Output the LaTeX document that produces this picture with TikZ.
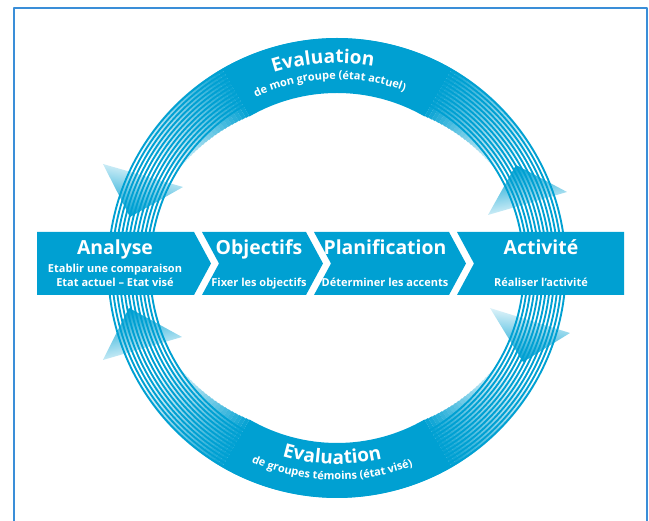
\documentclass[tikz,border=0pt]{standalone}
\usepackage{fontspec}
\setmainfont{Open Sans}
\usetikzlibrary{calc,fadings,decorations.text}
\definecolor{ringblue}{HTML}{00A0D2}
\definecolor{framebl}{HTML}{3A8ED8}
\tikzfading[name=tipfade,top color=transparent!0,bottom color=transparent!95]
\newcommand\evalbig{\bfseries\fontsize{19}{19}\selectfont}
\newcommand\evalsmall{\bfseries\fontsize{11}{11}\selectfont}
% one piece of the solid band: from, to, inner radius, opacity
\newcommand\bandpiece[4]{%
 \fill[ringblue,opacity=#4] ($(ctr)+(#1:230)$) arc[start angle=#1,end angle=#2,radius=230]
 -- ($(ctr)+(#2:#3)$) arc[start angle=#2,end angle=#1,radius=#3] -- cycle;}
\tikzset{
 title/.style={anchor=base,text=white,font=\bfseries\fontsize{19.4}{19.4}\selectfont,inner sep=0pt},
 subline/.style={anchor=base,text=white,font=\bfseries\fontsize{11}{11}\selectfont,inner sep=0pt},
 tip/.style={ringblue,path fading=tipfade}
}
\begin{document}
\begin{tikzpicture}[x=1pt,y=1pt,line join=round]
\useasboundingbox (0,0) rectangle (649,521);
\coordinate (ctr) at (337,253);
% Striped ring.
\foreach \i in {0,...,11}
 \draw[ringblue,line width=1.9] (ctr) circle[radius=187+3.8*\i];
% Solid parts of the band at top and bottom, fading out to the sides.
\bandpiece{60}{120}{175}{1}
\bandpiece{240}{300}{175}{1}
\foreach \k in {1,...,24}{
 \pgfmathsetmacro\op{1-\k/25}
 \pgfmathsetmacro\ri{175+\k/2}
 \pgfmathsetmacro\aa{60-1.25*\k}
 \pgfmathsetmacro\ab{\aa+1.25}
 \bandpiece{\aa}{\ab}{\ri}{\op}
 \bandpiece{180-\ab}{180-\aa}{\ri}{\op}
 \bandpiece{180+\aa}{180+\ab}{\ri}{\op}
 \bandpiece{360-\ab}{360-\aa}{\ri}{\op}
}
% Arrow heads on the ring.
\fill[tip,fading angle=163] (130,304)--(103,357)--(183,334)--cycle;
\fill[tip,fading angle=16.6] (516,356)--(567,329)--(488,306)--cycle;
\fill[tip,fading angle=18.4] (129,213)--(103,161)--(182,184)--cycle;
\fill[tip,fading angle=170.4] (523,159)--(490,213)--(570,188)--cycle;
% Banner of four chevrons.
\fill[ringblue] (37,289)--(194,289)--(211,257.5)--(194,226)--(37,226)--cycle;
\fill[ringblue] (202,289)--(306,289)--(323,257.5)--(306,226)--(202,226)--(219,257.5)--cycle;
\fill[ringblue] (314,289)--(449,289)--(466,257.5)--(449,226)--(314,226)--(331,257.5)--cycle;
\fill[ringblue] (457,289)--(624,289)--(624,226)--(457,226)--(474,257.5)--cycle;
\node[title] (analyse) at (115,266) {Analyse};
\node[subline] (analyseA) at (115,248.3) {Etablir une comparaison};
\node[subline] (analyseB) at (115,234.3) {Etat actuel – Etat visé};
\node[title] (objectifs) at (259,266) {Objectifs};
\node[subline] (objectifsA) at (259,234.3) {Fixer les objectifs};
\node[title] (planif) at (385,266) {Planification};
\node[subline] (planifA) at (385,234.3) {Déterminer les accents};
\node[title] (activite) at (541,266) {Activité};
\node[subline] (activiteA) at (541,234.3) {Réaliser l’activité};
% Curved labels of the two evaluation arcs.
\path[decorate,decoration={text along path,text align=center,text color=white,
 text={|\evalbig|Evaluation}}] ($(ctr)+(133.9:205)$) arc[start angle=133.9,end angle=53.9,radius=205];
\path[decorate,decoration={text along path,text align=center,text color=white,
 text={|\evalsmall|de mon groupe (état actuel)}}] ($(ctr)+(137.3:189)$) arc[start angle=137.3,end angle=47.3,radius=189];
\path[decorate,decoration={text along path,text align=center,text color=white,
 text={|\evalbig|Evaluation}}] ($(ctr)+(233.5:196)$) arc[start angle=233.5,end angle=303.5,radius=196];
\path[decorate,decoration={text along path,text align=center,text color=white,
 text={|\evalsmall|de groupes témoins (état visé)}}] ($(ctr)+(228.6:212)$) arc[start angle=228.6,end angle=308.6,radius=212];
% Frame, open at the bottom.
\draw[framebl,line width=2] (14,0)--(14,512.5)--(647,512.5)--(647,0);
\end{tikzpicture}
\end{document}
